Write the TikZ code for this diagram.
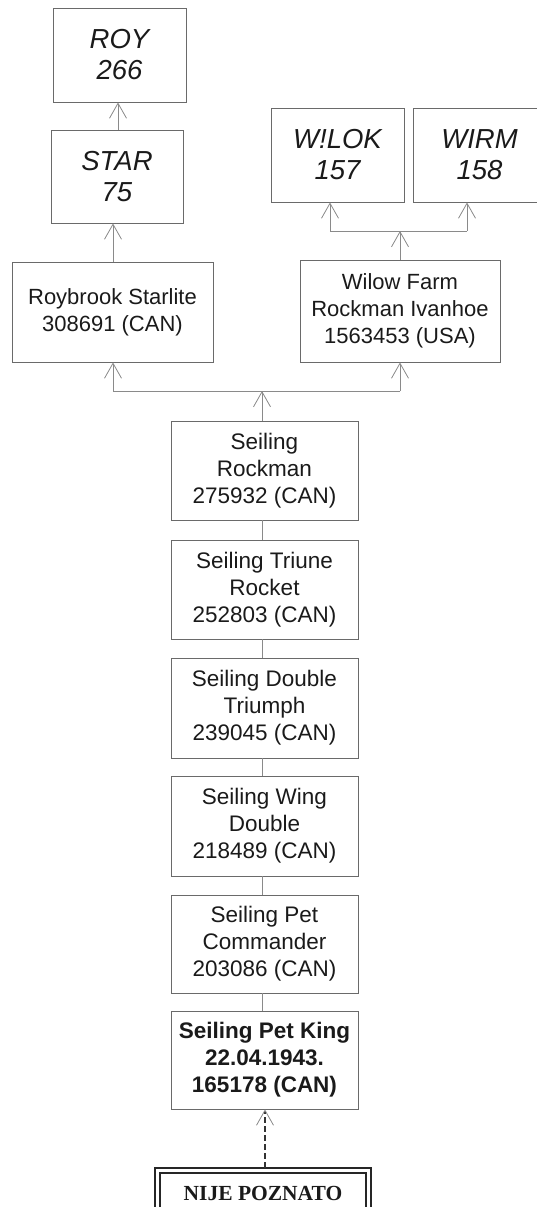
\documentclass[tikz,border=0pt]{standalone}
\usepackage{fontspec}
\setmainfont{Liberation Sans}
\newfontfamily\tnr{Liberation Serif}
\usetikzlibrary{arrows.meta}
\definecolor{boxgray}{HTML}{6A6A6A}
\definecolor{arrgray}{HTML}{8A8A8A}
\definecolor{txt}{HTML}{1A1A1A}
\begin{document}
\begin{tikzpicture}[x=1pt,y=-1pt,
  box/.style={draw=boxgray, line width=0.9pt, align=center, inner sep=0pt, text=txt},
  topbox/.style={box, minimum width=133pt, minimum height=94pt, font=\fontsize{27.5}{31}\selectfont\itshape},
  midbox/.style={box, minimum height=100pt, font=\fontsize{22}{27}\selectfont},
  sbox/.style={box, minimum width=187pt, minimum height=99pt, font=\fontsize{22.5}{27}\selectfont},
  conn/.style={draw=arrgray, line width=0.9pt},
  arr/.style={conn, -{Straight Barb[length=15pt,width=17pt,line width=0.8pt]}},
  dasharr/.style={draw=black!80, line width=2.2pt, dash pattern=on 6pt off 3pt,
     -{Straight Barb[length=15pt,width=17pt,line width=0.8pt,color=arrgray]}}
  ]
\useasboundingbox (0,0) rectangle (537,1207);

% top row
\node[topbox] (roy)   at (119.5,55)  {ROY\\266};
\node[topbox, minimum width=132pt, minimum height=93pt] (star) at (117,176.5) {STAR\\75};
\node[topbox] (wilok) at (337.5,155) {W!LOK\\157};
\node[topbox] (wirm)  at (479.5,155) {WIRM\\158};

% second row
\node[midbox, minimum width=201pt] (roybrook) at (112.5,312) {Roybrook Starlite\\308691 (CAN)};
\node[midbox, minimum width=200pt, minimum height=102pt] (wilow) at (400,311) {Wilow Farm\\Rockman Ivanhoe\\1563453 (USA)};

% chain
\node[sbox] (rockman)   at (264.5,470.5) {Seiling\\Rockman\\275932 (CAN)};
\node[sbox] (triune)    at (264.5,589.5) {Seiling Triune\\Rocket\\252803 (CAN)};
\node[sbox, minimum height=100pt] (double) at (264.5,708) {Seiling Double\\Triumph\\239045 (CAN)};
\node[sbox, minimum height=100pt] (wing)   at (264.5,826) {Seiling Wing\\Double\\218489 (CAN)};
\node[sbox, minimum height=98pt]  (commander) at (264.5,944) {Seiling Pet\\Commander\\203086 (CAN)};
\node[sbox, minimum height=98pt, font=\fontsize{22.5}{27}\selectfont\bfseries] (petking) at (264.5,1060) {Seiling Pet King\\22.04.1943.\\165178 (CAN)};

% unknown
\node[draw=black!85, line width=1.2pt, minimum width=206pt, minimum height=40pt, inner sep=0pt,
      font=\tnr\bfseries\fontsize{21.5}{25}\selectfont, text=txt] (nije) at (263,1193) {NIJE POZNATO};
\draw[black!85, line width=2.4pt] ([shift={(-4.5,-4.5)}]nije.north west) rectangle ([shift={(4.5,4.5)}]nije.south east);

% top arrows
\draw[arr] (star.north -| 118,0) -- (118,0 |- roy.south);
\draw[arr] (roybrook.north -| 113,0) -- (113,0 |- star.south);

% wilow fork
\coordinate (wj) at (400,231);
\coordinate (wl) at (330,231);
\coordinate (wr) at (467,231);
\draw[conn] (wl) -- (wr);
\draw[arr] (wilow.north) -- (wj);
\draw[arr] (wl) -- (wl |- wilok.south);
\draw[arr] (wr) -- (wr |- wirm.south);

% lower fork
\coordinate (sj) at (262,391);
\coordinate (sl) at (113,391);
\coordinate (sr) at (400,391);
\draw[conn] (sl) -- (sr);
\draw[arr] (sj |- rockman.north) -- (sj);
\draw[arr] (sl) -- (sl |- roybrook.south);
\draw[arr] (sr) -- (sr |- wilow.south);

% chain links
\draw[conn] (262,0 |- rockman.south) -- (262,0 |- triune.north);
\draw[conn] (262,0 |- triune.south) -- (262,0 |- double.north);
\draw[conn] (262,0 |- double.south) -- (262,0 |- wing.north);
\draw[conn] (262,0 |- wing.south) -- (262,0 |- commander.north);
\draw[conn] (262,0 |- commander.south) -- (262,0 |- petking.north);

% dashed arrow
\draw[dasharr] ([yshift=4.5pt]nije.north -| 265,0) -- (265,0 |- petking.south);
\end{tikzpicture}
\end{document}
